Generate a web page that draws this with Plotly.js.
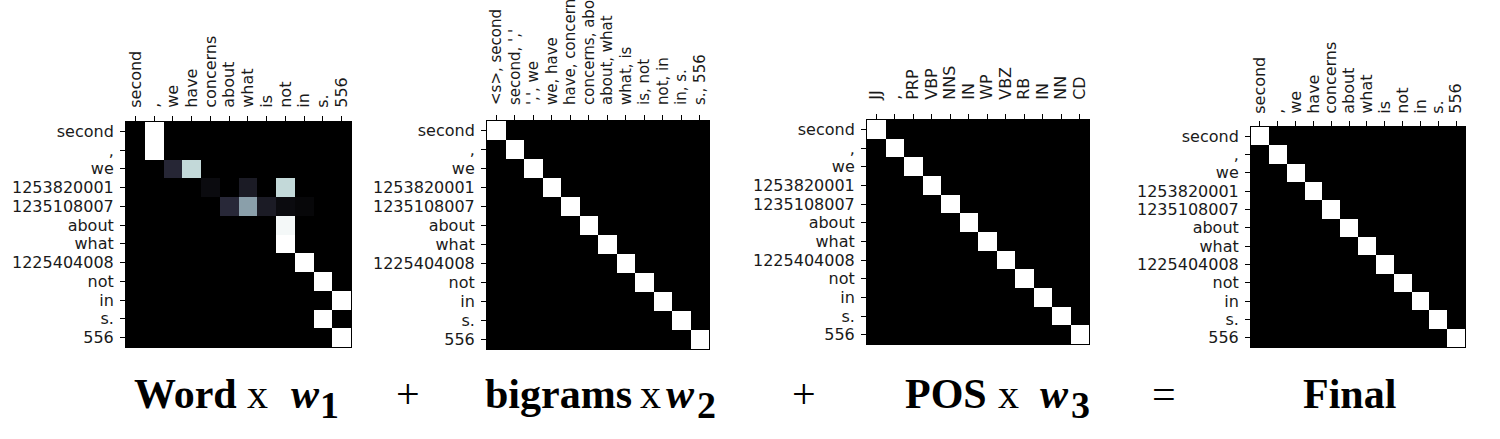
<!DOCTYPE html>
<html>
<head>
<meta charset="utf-8">
<script src="https://cdn.plot.ly/plotly-3.0.1.min.js"></script>
<style>
  html, body { margin: 0; padding: 0; background: #fff; }
  #chart { width: 1500px; height: 439px; }
</style>
</head>
<body>
<div id="chart"></div>
<script>
// ---------------- data ----------------
const rowLabels = ['second', ',', 'we', '1253820001', '1235108007', 'about', 'what', '1225404008', 'not', 'in', 's.', '556'];
const wordCols = ['second', ',', 'we', 'have', 'concerns', 'about', 'what', 'is', 'not', 'in', 's.', '556'];
const bigramCols = ['<s>, second', "second, ','", "',', we", 'we, have', 'have, concerns', 'concerns, about', 'about, what', 'what, is', 'is, not', 'not, in', 'in, s.', 's., 556'];
const posCols = ['JJ', ',', 'PRP', 'VBP', 'NNS', 'IN', 'WP', 'VBZ', 'RB', 'IN', 'NN', 'CD'];
const finalCols = ['second', ',', 'we', 'have', 'concerns', 'about', 'what', 'is', 'not', 'in', 's.', '556'];

const wordWeights = [
  [0, 1, 0, 0, 0, 0, 0, 0, 0, 0, 0, 0],
  [0, 1, 0, 0, 0, 0, 0, 0, 0, 0, 0, 0],
  [0, 0, 0.17, 0.83, 0, 0, 0, 0, 0, 0, 0, 0],
  [0, 0, 0, 0, 0.05, 0, 0.12, 0, 0.83, 0, 0, 0],
  [0, 0, 0, 0, 0, 0.18, 0.62, 0.12, 0.05, 0.03, 0, 0],
  [0, 0, 0, 0, 0, 0, 0, 0, 0.97, 0, 0, 0],
  [0, 0, 0, 0, 0, 0, 0, 0, 1, 0, 0, 0],
  [0, 0, 0, 0, 0, 0, 0, 0, 0, 1, 0, 0],
  [0, 0, 0, 0, 0, 0, 0, 0, 0, 0, 1, 0],
  [0, 0, 0, 0, 0, 0, 0, 0, 0, 0, 0, 1],
  [0, 0, 0, 0, 0, 0, 0, 0, 0, 0, 1, 0],
  [0, 0, 0, 0, 0, 0, 0, 0, 0, 0, 0, 1]
];
const bigramWeights = [
  [1, 0, 0, 0, 0, 0, 0, 0, 0, 0, 0, 0],
  [0, 1, 0, 0, 0, 0, 0, 0, 0, 0, 0, 0],
  [0, 0, 1, 0, 0, 0, 0, 0, 0, 0, 0, 0],
  [0, 0, 0, 1, 0, 0, 0, 0, 0, 0, 0, 0],
  [0, 0, 0, 0, 1, 0, 0, 0, 0, 0, 0, 0],
  [0, 0, 0, 0, 0, 1, 0, 0, 0, 0, 0, 0],
  [0, 0, 0, 0, 0, 0, 1, 0, 0, 0, 0, 0],
  [0, 0, 0, 0, 0, 0, 0, 1, 0, 0, 0, 0],
  [0, 0, 0, 0, 0, 0, 0, 0, 1, 0, 0, 0],
  [0, 0, 0, 0, 0, 0, 0, 0, 0, 1, 0, 0],
  [0, 0, 0, 0, 0, 0, 0, 0, 0, 0, 1, 0],
  [0, 0, 0, 0, 0, 0, 0, 0, 0, 0, 0, 1]
];
const posWeights = [
  [1, 0, 0, 0, 0, 0, 0, 0, 0, 0, 0, 0],
  [0, 1, 0, 0, 0, 0, 0, 0, 0, 0, 0, 0],
  [0, 0, 1, 0, 0, 0, 0, 0, 0, 0, 0, 0],
  [0, 0, 0, 1, 0, 0, 0, 0, 0, 0, 0, 0],
  [0, 0, 0, 0, 1, 0, 0, 0, 0, 0, 0, 0],
  [0, 0, 0, 0, 0, 1, 0, 0, 0, 0, 0, 0],
  [0, 0, 0, 0, 0, 0, 1, 0, 0, 0, 0, 0],
  [0, 0, 0, 0, 0, 0, 0, 1, 0, 0, 0, 0],
  [0, 0, 0, 0, 0, 0, 0, 0, 1, 0, 0, 0],
  [0, 0, 0, 0, 0, 0, 0, 0, 0, 1, 0, 0],
  [0, 0, 0, 0, 0, 0, 0, 0, 0, 0, 1, 0],
  [0, 0, 0, 0, 0, 0, 0, 0, 0, 0, 0, 1]
];
const finalWeights = [
  [1, 0, 0, 0, 0, 0, 0, 0, 0, 0, 0, 0],
  [0, 1, 0, 0, 0, 0, 0, 0, 0, 0, 0, 0],
  [0, 0, 1, 0, 0, 0, 0, 0, 0, 0, 0, 0],
  [0, 0, 0, 1, 0, 0, 0, 0, 0, 0, 0, 0],
  [0, 0, 0, 0, 1, 0, 0, 0, 0, 0, 0, 0],
  [0, 0, 0, 0, 0, 1, 0, 0, 0, 0, 0, 0],
  [0, 0, 0, 0, 0, 0, 1, 0, 0, 0, 0, 0],
  [0, 0, 0, 0, 0, 0, 0, 1, 0, 0, 0, 0],
  [0, 0, 0, 0, 0, 0, 0, 0, 1, 0, 0, 0],
  [0, 0, 0, 0, 0, 0, 0, 0, 0, 1, 0, 0],
  [0, 0, 0, 0, 0, 0, 0, 0, 0, 0, 1, 0],
  [0, 0, 0, 0, 0, 0, 0, 0, 0, 0, 0, 1]
];

// ---------------- layout / style ----------------
const W = 1500, H = 439;
const panels = [
  { z: wordWeights,   cols: wordCols,   box: [126, 351, 122, 347], xfs: 16, xso: 5 },
  { z: bigramWeights, cols: bigramCols, box: [487, 709, 121, 349], xfs: 15, xso: 7 },
  { z: posWeights,    cols: posCols,    box: [867, 1089, 120, 344], xfs: 16, xso: 11 },
  { z: finalWeights,  cols: finalCols,  box: [1251, 1465, 127, 347], xfs: 16, xso: 4 }
];
const bone = [
  [0, 'rgb(0,0,0)'],
  [0.365079, 'rgb(81,81,113)'],
  [0.746032, 'rgb(166,198,198)'],
  [1, 'rgb(255,255,255)']
];
const labelFont = 'DejaVu Sans, sans-serif';
const labelColor = '#1a1a1a';
const esc = s => s.replace(/&/g, '&amp;').replace(/</g, '&lt;').replace(/>/g, '&gt;');

const data = [];
const layout = {
  width: W, height: H,
  margin: { l: 0, r: 0, t: 0, b: 0 },
  paper_bgcolor: '#ffffff',
  plot_bgcolor: '#000000',
  showlegend: false,
  annotations: []
};

panels.forEach((p, i) => {
  const n = i === 0 ? '' : String(i + 1);
  const [l, r, t, b] = p.box;
  const xIdx = p.cols.map((_, k) => k);
  const yIdx = rowLabels.map((_, k) => k);
  data.push({
    type: 'heatmap',
    z: p.z, x: xIdx, y: yIdx,
    xaxis: 'x' + n, yaxis: 'y' + n,
    colorscale: bone, zmin: 0, zmax: 1,
    showscale: false, hoverinfo: 'skip', xgap: 0, ygap: 0
  });
  layout['xaxis' + n] = {
    domain: [l / W, r / W],
    anchor: 'y' + n,
    side: 'top',
    range: [-0.5, p.cols.length - 0.5],
    tickmode: 'array', tickvals: xIdx, ticktext: p.cols.map(esc),
    tickangle: -90,
    ticks: 'outside', ticklen: 5, tickwidth: 1, tickcolor: '#000',
    ticklabelstandoff: p.xso,
    tickfont: { family: labelFont, size: p.xfs, color: labelColor },
    showgrid: false, zeroline: false,
    showline: true, mirror: true, linecolor: '#000', linewidth: 1,
    fixedrange: true
  };
  layout['yaxis' + n] = {
    domain: [1 - b / H, 1 - t / H],
    anchor: 'x' + n,
    range: [rowLabels.length - 0.5, -0.5],
    tickmode: 'array', tickvals: yIdx, ticktext: rowLabels.map(esc),
    ticks: 'outside', ticklen: 5, tickwidth: 1, tickcolor: '#000',
    ticklabelstandoff: 3,
    tickfont: { family: labelFont, size: 16, color: labelColor },
    showgrid: false, zeroline: false,
    showline: true, mirror: true, linecolor: '#000', linewidth: 1,
    fixedrange: true
  };
});

// bottom equation text: [text, left px, center y px, font size]
const serif = 'Liberation Serif, Times New Roman, serif';
const eqTokens = [
  ['<b>Word</b>', 133, 394, 42],
  ['x', 246, 394, 42],
  ['<b><i>w</i></b>', 290, 394, 42],
  ['<b>1</b>', 319, 405, 38],
  ['+', 395, 394, 42],
  ['<b>bigrams</b>', 484, 394, 42],
  ['x', 639, 394, 42],
  ['<b><i>w</i></b>', 665, 394, 42],
  ['<b>2</b>', 696, 405, 38],
  ['+', 791, 394, 42],
  ['<b>POS</b>', 904, 394, 42],
  ['x', 997, 394, 42],
  ['<b><i>w</i></b>', 1039, 394, 42],
  ['<b>3</b>', 1070, 405, 38],
  ['=', 1151, 394, 42],
  ['<b>Final</b>', 1302, 394, 42]
];
eqTokens.forEach(([txt, xl, yc, fs]) => {
  layout.annotations.push({
    text: txt, xref: 'paper', yref: 'paper',
    x: xl / W, y: 1 - yc / H,
    xanchor: 'left', yanchor: 'middle',
    showarrow: false, borderpad: 0,
    font: { family: serif, size: fs, color: '#000' }
  });
});

Plotly.newPlot('chart', data, layout, { staticPlot: true, displayModeBar: false });
</script>
</body>
</html>
